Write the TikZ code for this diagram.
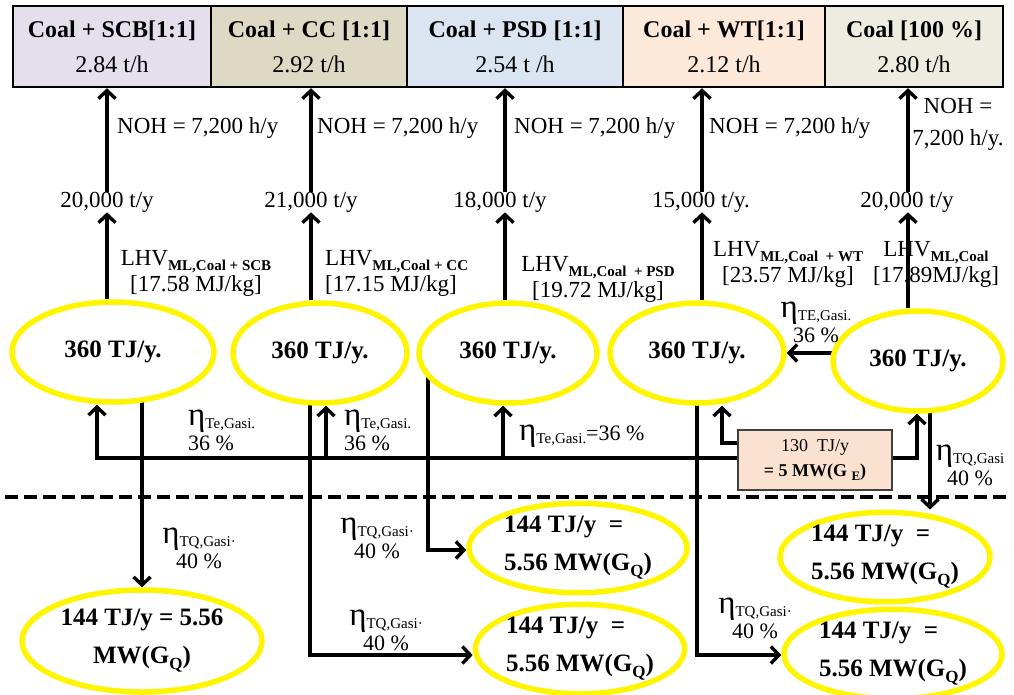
\documentclass[tikz,border=0pt]{standalone}
\usepackage{fontspec}
\setmainfont{Liberation Serif}
\usetikzlibrary{shapes.geometric,arrows.meta,backgrounds}
\definecolor{cA}{HTML}{E5DFEC}
\definecolor{cB}{HTML}{DDD9C4}
\definecolor{cC}{HTML}{DBE5F1}
\definecolor{cD}{HTML}{FDE9D9}
\definecolor{cE}{HTML}{EEECE1}
\definecolor{peach}{HTML}{FBE2D0}
\definecolor{ylw}{RGB}{255,245,0}
\newcommand\lsub[1]{\raisebox{-5pt}{\fontsize{15}{15}\selectfont\bfseries #1}}
\newcommand\esub[1]{\raisebox{-3pt}{\fontsize{15}{15}\selectfont #1}}
\newcommand\gsub[1]{\raisebox{-6pt}{\fontsize{17}{17}\selectfont #1}}
\newcommand\etaq{{\fontsize{33}{33}\selectfont η}}
\begin{document}
\begin{tikzpicture}[x=1pt,y=-1pt,
  topbox/.style={draw=black,line width=2.5pt,minimum height=81pt,inner sep=0pt,align=center,font=\fontsize{24}{35}\selectfont},
  ell/.style={ellipse,draw=ylw,line width=5.5pt,fill=white,inner sep=0pt,align=center,font=\bfseries\fontsize{25}{38}\selectfont},
  bell/.style={ellipse,draw=ylw,line width=5.5pt,fill=white,inner sep=0pt,font=\bfseries\fontsize{25}{38}\selectfont},
  lbl/.style={inner sep=0pt,font=\fontsize{23}{32}\selectfont},
  lhv/.style={inner sep=0pt,font=\fontsize{23}{26}\selectfont},
  etal/.style={inner sep=0pt,font=\fontsize{22}{25}\selectfont},
  arr/.style={line width=3.4pt,-{Straight Barb[length=8pt,width=17pt]}},
]
\useasboundingbox (0,0) rectangle (1014,694);
% top boxes
\node[topbox,fill=cA,minimum width=198pt] (b1) at (112,46.5) {{\bfseries Coal + SCB[1:1]}\\2.84 t/h};
\node[topbox,fill=cB,minimum width=196pt] (b2) at (309,46.5) {{\bfseries Coal + CC [1:1]}\\2.92 t/h};
\node[topbox,fill=cC,minimum width=216pt] (b3) at (515,46.5) {{\bfseries Coal + PSD [1:1]}\\2.54 t /h};
\node[topbox,fill=cD,minimum width=202pt] (b4) at (724,46.5) {{\bfseries Coal + WT[1:1]}\\2.12 t/h};
\node[topbox,fill=cE,minimum width=178pt] (b5) at (914,46.5) {{\bfseries Coal [100 \%]}\\2.80 t/h};
% NOH labels
\node[lbl,anchor=west] (n1) at (117,128) {NOH = 7,200 h/y};
\node[lbl,anchor=west] (n2) at (317,128) {NOH = 7,200 h/y};
\node[lbl,anchor=west] (n3) at (514,128) {NOH = 7,200 h/y};
\node[lbl,anchor=west] (n4) at (709,128) {NOH = 7,200 h/y};
\node[lbl,align=center] (n5) at (958,124) {NOH =\\7,200 h/y.};
% t/y labels
\node[lbl] (t1) at (107,202) {20,000 t/y};
\node[lbl] (t2) at (311,202) {21,000 t/y};
\node[lbl] (t3) at (500,202) {18,000 t/y};
\node[lbl] (t4) at (701,202) {15,000 t/y.};
\node[lbl] (t5) at (907,202) {20,000 t/y};
% arrow x positions
\coordinate (x1) at (107,0);
\coordinate (x2) at (311,0);
\coordinate (x3) at (505,0);
\coordinate (x4) at (702,0);
\coordinate (x5) at (908,0);
% LHV labels
\node[lhv,align=center] (l1) at (196,273) {LHV\lsub{ML,Coal + SCB}\\{}[17.58 MJ/kg]};
\node[lhv,align=left,anchor=west] (l2) at (325,273) {LHV\lsub{ML,Coal + CC}\\{}[17.15 MJ/kg]};
\node[lhv,align=center] (l3) at (598,279) {LHV\lsub{ML,Coal \ + PSD}\\{}[19.72 MJ/kg]};
\node[lhv,align=center] (l4) at (788,264) {LHV\lsub{ML,Coal \ + WT}\\{}[23.57 MJ/kg]};
\node[lhv,align=center] (l5) at (936,264) {LHV\lsub{ML,Coal}\\{}[17.89MJ/kg]};
% ellipses
\node[ell,minimum width=202pt,minimum height=100pt] (E1) at (113,352) {360 TJ/y.};
\node[ell,minimum width=174pt,minimum height=100pt] (E2) at (320,353) {360 TJ/y.};
\node[ell,minimum width=178pt,minimum height=100pt] (E3) at (508,353) {360 TJ/y.};
\node[ell,minimum width=174pt,minimum height=100pt] (E4) at (697,353) {360 TJ/y.};
\node[ell,minimum width=170pt,minimum height=100pt] (E5) at (918,361) {360 TJ/y.};
% gas box
\node[draw=black!75,line width=2.5pt,fill=peach,minimum width=154pt,minimum height=60pt,inner sep=0pt,align=center,font=\fontsize{18}{25}\selectfont] (g) at (815,460) {130 \ TJ/y\\{\bfseries = 5 MW(G \raisebox{-4pt}{\fontsize{13}{13}\selectfont E})}};
% bottom ellipses
\node[bell,align=center,minimum width=240pt,minimum height=102pt] (B1) at (142,641) {144 TJ/y = 5.56\\MW(G\gsub{Q})};
\node[bell,align=left,minimum width=218pt,minimum height=74pt] (B2) at (578,548) {144 TJ/y \ =\\5.56 MW(G\gsub{Q})};
\node[bell,align=left,minimum width=208pt,minimum height=78pt] (B3) at (580,649) {144 TJ/y \ =\\5.56 MW(G\gsub{Q})};
\node[bell,align=left,minimum width=218pt,minimum height=78pt] (B4) at (893,654) {144 TJ/y \ =\\5.56 MW(G\gsub{Q})};
\node[bell,align=left,minimum width=210pt,minimum height=80pt] (B5) at (885,557) {144 TJ/y \ =\\5.56 MW(G\gsub{Q})};
% eta labels
\node[etal,align=left,anchor=west] (h1) at (188,430) {\etaq\esub{Te,Gasi.}\\36 \%};
\node[etal,align=left,anchor=west] (h2) at (344,430) {\etaq\esub{Te,Gasi.}\\36 \%};
\node[etal,anchor=west] (h3) at (519,436) {\etaq\esub{Te,Gasi.}=36 \%};
\node[etal,align=center] (h4) at (816,322) {\etaq\esub{TE,Gasi.}\\36 \%};
\node[etal,align=center] (h5) at (970,465) {\etaq\esub{TQ,Gasi}\\40 \%};
\node[etal,align=center] (h6) at (199,548) {\etaq\esub{TQ,Gasi·}\\40 \%};
\node[etal,align=center] (h7) at (377,538) {\etaq\esub{TQ,Gasi·}\\40 \%};
\node[etal,align=center] (h8) at (386,630) {\etaq\esub{TQ,Gasi·}\\40 \%};
\node[etal,align=center] (h9) at (755,618) {\etaq\esub{TQ,Gasi·}\\40 \%};
% helper coordinates
\coordinate (f1) at (97,458);
\coordinate (f2) at (326,458);
\coordinate (f3) at (503,458);
\coordinate (f4) at (722,443);
\coordinate (f5) at (917,458);
\coordinate (k1) at (142,0);
\coordinate (k2) at (310,655);
\coordinate (k3) at (428,550);
\coordinate (k4) at (697,655);
\coordinate (k5) at (930,0);
\begin{scope}[on background layer]
  \fill[white] (0,0) rectangle (1014,694);
  % upward flows
  \foreach \i in {1,...,5}{
    \draw[arr] (x\i |- E\i.north) -- (x\i |- t\i.south);
    \draw[arr] (x\i |- t\i.north) -- (x\i |- b\i.south);
  }
  % gasification feed
  \draw[arr] (g.west |- f1) -- (f1) -- (f1 |- E1.south);
  \draw[arr] (f2) -- (f2 |- E2.south);
  \draw[arr] (f3) -- (f3 |- E3.south);
  \draw[arr] (g.west |- f4) -- (f4) -- (f4 |- E4.south);
  \draw[arr] (g.east |- f5) -- (f5) -- (f5 |- E5.south);
  \draw[arr] (E5.center |- E4.east) -- (E4.east);
  % heat outputs
  \draw[arr] (E1.center -| k1) -- (k1 |- B1.north);
  \draw[arr] (E2.center -| k2) -- (k2) -- (B3.west |- k2);
  \draw[arr] (E3.center -| k3) -- (k3) -- (B2.west |- k3);
  \draw[arr] (E4.center -| k4) -- (k4) -- (B4.west |- k4);
  \draw[arr] (E5.center -| k5) -- (k5 |- B5.north);
  % dashed separator
  \draw[line width=3.5pt,dash pattern=on 13pt off 6pt] (5,497) -- (1010,497);
\end{scope}
\end{tikzpicture}
\end{document}
